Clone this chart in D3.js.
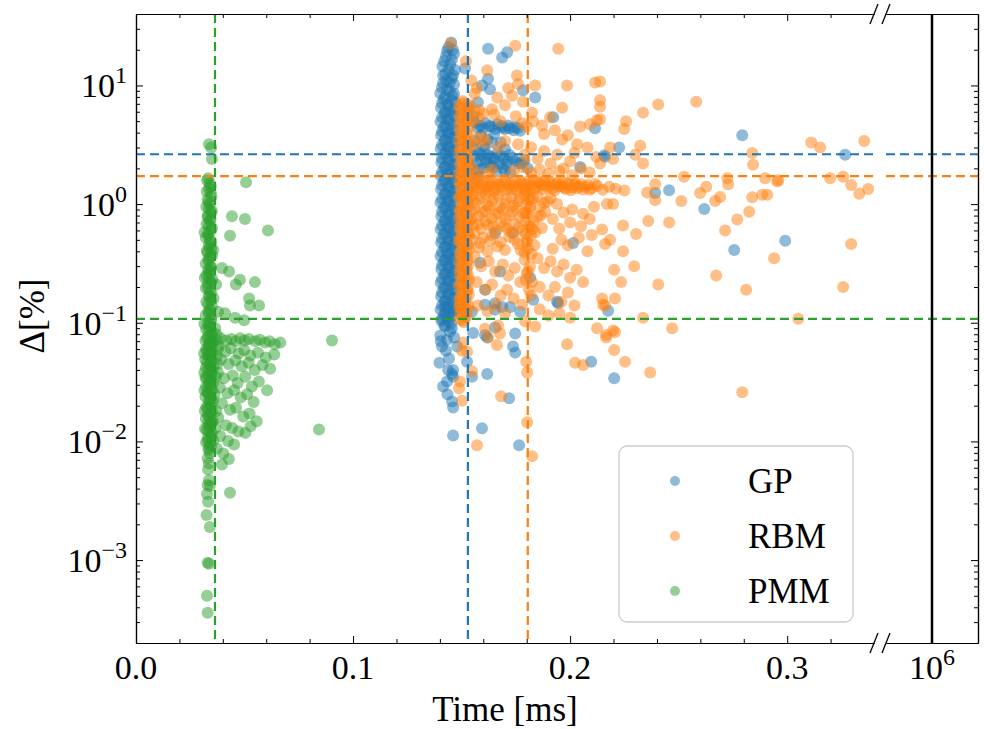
<!DOCTYPE html>
<html><head><meta charset="utf-8">
<script src="https://cdn.jsdelivr.net/npm/d3@7"></script>
<style>body{margin:0;background:#fff}svg{display:block}</style>
</head><body>
<svg id="chart" width="984" height="729"></svg>
<script>
// ---------------- data ----------------
const seriesNames = ["GP", "RBM", "PMM"];
const seriesColors = ["#1f77b4", "#ff7f0e", "#2ca02c"];
// mean time [ms] and mean delta [%] per series (dashed lines)
const meanTime = [0.1529, 0.1805, 0.0364];
const meanDelta = [2.63, 1.72, 0.108];
const exactTime = 1e6;
const xTickValues = [0, 0.1, 0.2, 0.3];
const xTickLabels = ["0.0", "0.1", "0.2", "0.3"];
const yTickValues = [1e-3, 1e-2, 1e-1, 1, 10];
const yTickExponents = ["\u22123", "\u22122", "\u22121", "0", "1"];

// [time ms, delta %]
const gpPoints = [
[0.1452,23],[0.1433,19.5],[0.1465,18.5],[0.1420,16],[0.1447,15],[0.1470,13.5],[0.1425,12.5],[0.1455,11.5],[0.1415,10.5],[0.1465,10.2],
[0.1440,21],[0.1460,20],[0.1428,17.5],[0.1455,16.5],[0.1412,14.5],[0.1440,13.5],[0.1460,12.2],[0.1430,11],[0.1445,10.6],
[0.1622,20.4],[0.1687,17.2],[0.1710,19.0],[0.1516,13.9],[0.1415,12.1],[0.1622,11.4],[0.1594,10.0],[0.1631,9.3],[0.1783,9.1],[0.1839,7.9],[0.2115,4.35],[0.1922,5.4],
[0.1410,9.6],[0.1445,9.0],[0.1465,8.5],[0.1425,8.0],[0.1455,7.5],[0.1410,7.1],[0.1440,6.7],[0.1465,6.3],[0.1425,6.0],[0.1455,5.7],[0.1410,5.4],[0.1440,5.1],[0.1465,4.8],[0.1425,4.55],[0.1455,4.3],[0.1410,4.1],[0.1440,3.9],[0.1465,3.7],[0.1425,3.5],[0.1455,3.3],[0.1410,3.15],[0.1440,3.0],[0.1465,2.85],[0.1425,2.7],[0.1455,2.55],[0.1410,2.42],[0.1440,2.3],[0.1465,2.18],[0.1425,2.07],[0.1455,1.96],[0.1410,1.86],[0.1440,1.77],[0.1465,1.68],[0.1425,1.6],[0.1455,1.52],[0.1410,1.44],[0.1440,1.37],[0.1465,1.3],[0.1425,1.23],[0.1455,1.17],[0.1410,1.11],[0.1440,1.05],[0.1465,1.0],[0.1425,0.95],[0.1455,0.9],[0.1410,0.86],[0.1440,0.81],[0.1465,0.77],[0.1425,0.73],[0.1455,0.7],[0.1410,0.66],[0.1440,0.63],[0.1465,0.6],[0.1425,0.57],[0.1455,0.54],[0.1410,0.51],[0.1440,0.485],[0.1465,0.46],[0.1425,0.44],[0.1455,0.415],[0.1410,0.395],[0.1440,0.375],[0.1465,0.355],[0.1425,0.34],[0.1455,0.32],[0.1410,0.305],[0.1440,0.29],[0.1465,0.275],[0.1425,0.26],[0.1455,0.248],[0.1410,0.235],[0.1440,0.223],[0.1465,0.212],[0.1425,0.2],[0.1455,0.19],[0.1410,0.18],[0.1440,0.172],[0.1465,0.163],[0.1425,0.155],[0.1455,0.147],[0.1410,0.14],[0.1440,0.133],[0.1465,0.126],[0.1425,0.12],[0.1455,0.114],[0.1410,0.108],[0.1440,0.103],
[0.1432,9.3],[0.1402,8.6],[0.1458,8.2],[0.1418,7.7],[0.1470,7.2],[0.1437,6.9],[0.1405,6.5],[0.1450,6.1],[0.1422,5.8],[0.1468,5.5],[0.1432,5.2],[0.1403,4.95],[0.1449,4.7],[0.1418,4.45],[0.1470,4.2],[0.1436,4.0],[0.1406,3.8],[0.1452,3.6],[0.1421,3.4],[0.1469,3.22],[0.1434,3.07],[0.1404,2.93],[0.1450,2.78],[0.1419,2.63],[0.1470,2.5],[0.1436,2.36],[0.1407,2.24],[0.1453,2.12],[0.1421,2.02],[0.1468,1.91],[0.1433,1.82],[0.1404,1.73],[0.1449,1.64],[0.1418,1.56],[0.1470,1.48],[0.1437,1.4],[0.1406,1.33],[0.1452,1.27],[0.1422,1.2],[0.1468,1.14],[0.1432,1.08],[0.1403,1.03],[0.1450,0.975],[0.1419,0.925],[0.1470,0.88],[0.1436,0.835],[0.1407,0.79],[0.1452,0.75],[0.1421,0.715],[0.1469,0.68],[0.1434,0.645],[0.1404,0.615],[0.1450,0.585],[0.1418,0.555],[0.1470,0.525],[0.1437,0.5],[0.1406,0.472],[0.1453,0.45],[0.1422,0.428],[0.1468,0.405],[0.1433,0.385],[0.1403,0.365],[0.1449,0.347],[0.1419,0.33],[0.1470,0.312],[0.1436,0.297],[0.1407,0.282],[0.1452,0.268],[0.1421,0.254],[0.1469,0.241],[0.1434,0.229],[0.1404,0.217],[0.1450,0.206],[0.1418,0.196],[0.1470,0.186],[0.1437,0.176],[0.1406,0.167],[0.1453,0.159],[0.1422,0.151],[0.1468,0.143],[0.1433,0.136],[0.1403,0.129],[0.1449,0.122],[0.1419,0.116],[0.1436,0.11],[0.1407,0.104],[0.1452,0.099],[0.1425,0.094],
[0.1560,4.9],[0.1585,4.6],[0.1610,4.8],[0.1640,4.5],[0.1665,4.7],[0.1690,4.4],[0.1715,4.6],[0.1740,4.2],[0.1590,3.8],[0.1620,3.5],[0.1650,3.9],[0.1680,3.3],[0.1550,3.0],[0.1580,2.7],[0.1605,2.9],[0.1635,2.5],[0.1665,2.7],[0.1695,2.4],[0.1720,2.6],[0.1750,2.3],[0.1570,2.2],[0.1600,2.0],[0.1630,2.1],[0.1660,1.9],[0.1545,1.8],[0.1575,1.7],[0.1690,2.0],[0.1725,1.85],[0.1775,2.2],[0.1805,2.0],[0.1555,5.5],[0.1530,6.5],[0.1575,7.2],
[0.1575,4.4],[0.1600,4.35],[0.1628,4.55],[0.1655,4.3],[0.1685,4.55],[0.1720,4.35],[0.1745,4.45],[0.1770,4.15],[0.1560,3.4],[0.1600,3.1],[0.1640,3.3],[0.1700,2.9],[0.1560,2.55],[0.1590,2.35],[0.1620,2.6],[0.1650,2.45],[0.1680,2.55],[0.1710,2.3],[0.1735,2.45],[0.1760,2.2],[0.1790,2.35],[0.1540,2.1],[0.1580,1.95],[0.1615,2.25],[0.1645,2.05],[0.1675,2.2],[0.1700,1.9],
[0.1700,4.3],[0.1760,4.4],[0.1590,2.6],[0.1650,2.3],[0.1705,2.15],[0.1610,2.4],[0.2046,2.05],[0.2157,2.58],
[0.2226,3.0],[0.2161,2.5],[0.2392,1.24],[0.2456,1.31],[0.2618,0.91],[0.2793,3.8],[0.2756,0.41],[0.2991,0.49],[0.3267,2.6],[0.2175,0.126],
[0.1654,0.57],[0.1737,0.57],[0.1677,0.27],[0.1816,0.24],[0.1585,0.32],[0.1608,0.19],[0.1654,0.146],[0.2014,0.47],[0.1940,0.15],
[0.1447,0.084],[0.1433,0.072],[0.1410,0.063],[0.1480,0.063],[0.1553,0.082],[0.1608,0.079],[0.1618,0.075],[0.1654,0.091],[0.1747,0.081],[0.1737,0.063],[0.1747,0.056],[0.1525,0.047],[0.1438,0.04],[0.1461,0.04],[0.1456,0.037],[0.1433,0.032],[0.1461,0.035],[0.1548,0.035],[0.1618,0.037],[0.1456,0.0217],[0.1461,0.0193],[0.1594,0.0129],[0.1461,0.0112],[0.1765,0.0093],[0.1719,0.0231],[0.1945,0.147],[0.2203,0.034],[0.2097,0.047],[0.1608,0.142],[0.1724,0.136],[0.1770,0.124],[0.1654,0.129],[0.1687,0.136],[0.1548,0.124],[0.1470,0.129],[0.1424,0.136],[0.1830,0.156],[0.1420,0.095],[0.1455,0.09],
[0.1402,0.078],[0.1428,0.058],[0.1398,0.046],[0.1442,0.05],[0.1415,0.029],[0.1435,0.025],[0.1404,0.07],[0.1466,0.075]
];

const rbmPoints = [
[0.1450,22.5],
[0.1505,7.4],[0.1525,6.9],[0.1495,6.4],[0.1515,6.0],[0.1530,5.6],[0.1500,5.3],[0.1520,4.9],[0.1490,4.6],[0.1512,4.3],[0.1528,4.0],[0.1498,3.8],[0.1518,3.55],[0.1505,3.3],[0.1525,3.1],[0.1492,2.9],[0.1515,2.7],[0.1530,2.55],[0.1500,2.4],[0.1520,2.25],[0.1495,2.1],[0.1512,1.98],[0.1528,1.86],[0.1500,1.75],[0.1520,1.65],[0.1490,1.55],[0.1510,1.47],[0.1530,1.39],[0.1500,1.31],[0.1520,1.24],[0.1495,1.17],[0.1515,1.1],[0.1528,1.04],[0.1500,0.98],[0.1520,0.93],[0.1492,0.88],[0.1512,0.83],[0.1530,0.78],[0.1500,0.74],[0.1520,0.7],[0.1495,0.66],[0.1515,0.62],[0.1528,0.59],[0.1500,0.56],[0.1520,0.53],[0.1490,0.5],[0.1510,0.47],[0.1530,0.445],[0.1500,0.42],[0.1520,0.4],[0.1495,0.375],[0.1515,0.355],[0.1528,0.335],[0.1500,0.315],[0.1520,0.3],[0.1492,0.28],[0.1512,0.265],[0.1530,0.25],[0.1500,0.235],[0.1520,0.222],[0.1495,0.21],[0.1515,0.198],[0.1528,0.187],[0.1500,0.176],[0.1520,0.166],[0.1490,0.157],[0.1510,0.148],[0.1530,0.14],[0.1500,0.132],[0.1520,0.125],[0.1495,0.118],[0.1515,0.111],[0.1505,0.104],
[0.1510,7.1],[0.1488,6.7],[0.1532,6.2],[0.1505,5.8],[0.1490,5.45],[0.1527,5.1],[0.1508,4.75],[0.1535,4.45],[0.1493,4.15],[0.1521,3.9],[0.1509,3.65],[0.1488,3.42],[0.1533,3.2],[0.1503,3.0],[0.1524,2.8],[0.1490,2.63],[0.1510,2.47],[0.1534,2.32],[0.1497,2.18],[0.1526,2.04],[0.1506,1.92],[0.1489,1.81],[0.1531,1.7],[0.1508,1.6],[0.1524,1.51],[0.1493,1.43],[0.1512,1.35],[0.1535,1.27],[0.1503,1.2],[0.1488,1.13],[0.1527,1.07],[0.1508,1.01],[0.1533,0.955],[0.1494,0.905],[0.1518,0.855],[0.1505,0.805],[0.1489,0.76],[0.1532,0.72],[0.1509,0.68],[0.1523,0.645],[0.1492,0.61],[0.1511,0.575],[0.1535,0.545],[0.1502,0.515],[0.1488,0.485],[0.1527,0.46],[0.1507,0.435],[0.1533,0.41],[0.1494,0.39],[0.1518,0.365],[0.1505,0.345],[0.1489,0.325],[0.1532,0.307],[0.1509,0.29],[0.1523,0.273],[0.1492,0.258],[0.1511,0.243],[0.1535,0.229],[0.1502,0.216],[0.1488,0.204],[0.1527,0.192],[0.1507,0.181],[0.1533,0.171],[0.1494,0.161],[0.1518,0.152],[0.1505,0.143],[0.1489,0.135],[0.1532,0.128],[0.1509,0.12],[0.1523,0.113],[0.1492,0.107],[0.1511,0.101],
[0.1545,1.55],[0.1560,1.38],[0.1575,1.62],[0.1590,1.45],[0.1605,1.33],[0.1620,1.58],[0.1635,1.42],[0.1650,1.3],[0.1665,1.55],[0.1680,1.4],[0.1695,1.6],[0.1710,1.35],[0.1725,1.5],[0.1740,1.42],[0.1755,1.3],[0.1770,1.56],[0.1785,1.38],[0.1800,1.48],[0.1815,1.32],[0.1830,1.6],[0.1845,1.4],[0.1860,1.5],[0.1875,1.33],[0.1890,1.45],[0.1905,1.55],[0.1920,1.36],[0.1935,1.48],[0.1950,1.4],[0.1965,1.52],[0.1980,1.34],[0.1995,1.45],[0.2010,1.38],[0.2025,1.5],[0.2040,1.4],[0.2060,1.33],[0.2080,1.45],[0.2100,1.36],[0.2125,1.42],[0.2150,1.32],[0.2180,1.4],[0.2210,1.35],[0.2250,1.3],
[0.1538,1.44],[0.1552,1.3],[0.1567,1.5],[0.1583,1.36],[0.1598,1.57],[0.1612,1.4],[0.1627,1.29],[0.1643,1.52],[0.1657,1.37],[0.1672,1.46],[0.1688,1.31],[0.1703,1.52],[0.1718,1.43],[0.1733,1.33],[0.1748,1.58],[0.1762,1.41],[0.1778,1.49],[0.1792,1.3],[0.1808,1.55],[0.1822,1.42],[0.1838,1.34],[0.1853,1.56],[0.1868,1.44],[0.1882,1.55],[0.1898,1.37],[0.1913,1.46],[0.1928,1.3],[0.1943,1.52],[0.1958,1.43],[0.1972,1.38],[0.1988,1.5],[0.2003,1.31],[0.2018,1.44],[0.2033,1.36],[0.2050,1.47],[0.2070,1.4],[0.2090,1.32],[0.2115,1.48],
[0.1550,1.2],[0.1580,1.1],[0.1610,1.22],[0.1640,1.05],[0.1670,1.18],[0.1700,1.0],[0.1730,1.15],[0.1760,1.05],[0.1790,1.2],[0.1820,1.08],[0.1850,1.17],[0.1880,1.02],[0.1910,1.12],[0.1940,1.0],[0.1560,0.92],[0.1595,0.85],[0.1625,0.95],[0.1655,0.82],[0.1690,0.9],[0.1720,0.8],[0.1750,0.93],[0.1785,0.84],[0.1815,0.9],[0.1850,0.78],[0.1885,0.86],[0.1920,0.75],[0.1545,0.75],[0.1575,0.68],[0.1610,0.72],[0.1645,0.65],[0.1680,0.7],[0.1710,0.62],[0.1745,0.68],[0.1780,0.6],[0.1810,0.66],[0.1840,0.58],[0.1870,0.63],[0.1560,0.57],[0.1600,0.52],[0.1640,0.55],[0.1680,0.48],[0.1720,0.53],[0.1760,0.46],[0.1800,0.5],[0.1835,0.45],[0.1580,0.43],[0.1620,0.4],[0.1700,0.41],[0.1790,0.39],
[0.1535,1.12],[0.1565,1.02],[0.1590,1.15],[0.1618,0.98],[0.1648,1.12],[0.1676,0.94],[0.1705,1.1],[0.1738,0.97],[0.1768,1.13],[0.1798,0.99],[0.1830,1.12],[0.1862,0.95],[0.1895,1.05],[0.1545,0.86],[0.1578,0.79],[0.1608,0.88],[0.1638,0.76],[0.1668,0.85],[0.1702,0.74],[0.1735,0.86],[0.1768,0.77],[0.1800,0.83],[0.1832,0.72],[0.1865,0.8],[0.1553,0.66],[0.1590,0.62],[0.1622,0.67],[0.1660,0.6],[0.1695,0.65],[0.1728,0.58],[0.1762,0.63],[0.1795,0.56],[0.1825,0.61],[0.1548,0.5],[0.1585,0.47],[0.1630,0.49],[0.1665,0.44],[0.1745,0.5],[0.1772,0.41],
[0.1800,1.25],[0.1815,0.95],[0.1795,0.72],[0.1820,0.55],[0.1805,0.42],[0.1790,0.34],[0.1815,0.3],[0.1800,0.26],[0.1825,0.22],[0.1810,0.19],
[0.1808,1.1],[0.1795,0.85],[0.1818,0.64],[0.1800,0.48],[0.1822,0.38],[0.1806,0.27],[0.1795,0.23],[0.1820,0.17],
[0.1747,21.6],[0.1945,20.4],[0.1618,13.4],[0.1755,12.1],[0.1760,10.3],[0.1715,9.5],[0.1839,10.0],[0.1986,10.0],[0.2115,10.6],[0.2138,7.5],[0.1664,7.9],[0.1733,8.2],[0.1783,7.3],[0.1825,5.9],[0.1963,6.5],[0.1908,5.4],[0.2046,4.5],[0.2092,4.7],[0.2124,5.1],[0.2032,3.2],[0.1963,3.5],[0.1880,3.9],[0.1800,4.5],[0.1750,5.5],[0.1700,6.8],[0.1650,5.7],[0.1580,6.2],[0.1560,8.5],[0.1570,9.5],[0.1545,11],[0.1520,16],
[0.1540,6.8],[0.1560,6.0],[0.1548,5.0],[0.1600,5.8],[0.1640,6.3],[0.1600,3.6],[0.1560,3.2],[0.1545,2.0],[0.1570,1.85],[0.1620,1.8],
[0.2406,6.9],[0.2581,7.3],[0.2336,5.9],[0.2258,5.0],[0.2249,4.3],[0.2323,3.1],[0.2300,2.6],[0.2336,2.2],[0.2198,2.4],[0.2138,2.2],[0.2184,3.0],[0.2138,10.8],[0.2138,6.6],[0.2138,5.2],[0.2839,2.7],[0.2843,2.15],[0.3111,3.3],[0.3152,3.0],[0.3355,3.4],[0.3258,1.7],[0.3295,1.45],[0.3373,1.34],[0.3332,1.22],[0.3198,1.65],[0.2959,1.59],[0.2899,1.65],[0.2728,1.47],[0.2724,1.65],[0.2627,1.4],[0.2599,1.24],[0.2525,1.7],[0.2392,1.47],[0.2355,1.25],[0.2392,1.08],[0.2512,1.06],[0.2668,1.06],[0.2691,1.15],[0.2839,1.14],[0.2885,1.2],[0.2908,1.2],[0.2825,0.86],[0.2954,1.55],[0.2456,0.7],[0.2360,0.72],[0.2244,0.66],[0.2304,0.56],[0.2714,0.6],[0.2770,0.74],[0.2198,1.0],[0.2170,1.0],[0.2147,0.61],[0.2184,0.5],[0.2161,0.46],[0.2244,0.4],[0.2940,0.35],[0.3295,0.46],[0.2811,0.19],[0.2673,0.25],[0.2295,0.3],[0.2203,0.28],[0.2406,0.21],[0.2147,0.16],[0.2235,0.22],[0.2207,0.16],[0.2161,0.14],[0.2336,0.11],[0.2470,0.09],[0.3051,0.108],[0.3258,0.2],[0.2166,0.075],[0.2207,0.083],[0.2793,0.026],[0.2369,0.038],[0.2253,0.047],
[0.1493,0.142],[0.1608,0.089],[0.1668,0.095],[0.1677,0.081],[0.1622,0.075],[0.1663,0.065],[0.1507,0.068],[0.1502,0.058],[0.1525,0.057],[0.1779,0.142],[0.1793,0.103],[0.1839,0.093],[0.1798,0.047],[0.1802,0.038],[0.1548,0.039],[0.1493,0.032],[0.1488,0.028],[0.1502,0.022],[0.1682,0.024],[0.1802,0.0145],[0.1571,0.0093],[0.1825,0.0075],[0.1986,0.066],[0.2023,0.046],[0.2060,0.044],[0.2124,0.09],[0.2198,0.086],[0.2166,0.079],[0.2203,0.059],[0.2152,0.142],
[0.1560,0.36],[0.1590,0.3],[0.1625,0.33],[0.1655,0.27],[0.1690,0.31],[0.1715,0.25],[0.1745,0.29],[0.1770,0.22],[0.1850,0.35],[0.1880,0.29],[0.1910,0.33],[0.1940,0.27],[0.1970,0.31],[0.2000,0.24],[0.2030,0.28],[0.2060,0.22],[0.1570,0.22],[0.1610,0.19],[0.1640,0.21],[0.1680,0.17],[0.1710,0.19],[0.1740,0.16],[0.1860,0.2],[0.1900,0.17],[0.1930,0.2],[0.1960,0.15],[0.1990,0.18],[0.2020,0.14],[0.1575,0.14],[0.1620,0.125],[0.1660,0.14],[0.1700,0.12],[0.1860,0.13],[0.1900,0.115],[0.1950,0.12],[0.2000,0.11],[0.1920,0.42],[0.1960,0.5],[0.1990,0.45],[0.2040,0.52],[0.2080,0.4],[0.2100,0.55],[0.1950,0.62],[0.2000,0.7],[0.2050,0.65],[0.2090,0.75],[0.1970,0.85],[0.2010,0.9],[0.2060,0.83],[0.2110,0.95],
[0.1570,3.6],[0.1610,3.3],[0.1670,3.0],[0.1700,3.4],[0.1760,3.2],[0.1790,2.6],[0.1820,3.0],[0.1850,2.4],[0.1880,2.8],[0.1910,2.2],[0.1940,2.6],[0.1970,2.0],[0.2000,2.3],[0.1640,1.95],[0.1740,1.9],[0.1780,2.05],[0.1820,1.85],[0.1860,1.95],[0.1900,1.8],[0.1950,1.9],[0.2010,1.75],[0.2050,2.0],[0.2090,1.85],[0.2120,2.5],[0.2080,3.0],[0.2020,2.7],[0.1990,3.8],[0.1930,4.2],[0.1870,4.6],[0.1830,5.0],[0.1780,4.8],[0.1680,5.0],[0.1580,5.3]
];

const pmmPoints = [
[0.0336,3.2],[0.0346,3.0],[0.0350,2.4],
[0.0332,1.65],[0.0340,1.5],[0.0336,1.35],[0.0344,1.25],[0.0330,1.1],[0.0340,1.0],[0.0336,0.92],[0.0346,0.85],[0.0330,0.78],[0.0340,0.72],[0.0336,0.66],[0.0345,0.6],[0.0332,0.55],[0.0341,0.5],[0.0336,0.46],[0.0346,0.42],[0.0330,0.39],[0.0340,0.36],[0.0336,0.33],[0.0345,0.3],[0.0332,0.28],[0.0341,0.26],[0.0336,0.24],[0.0346,0.22],[0.0330,0.2],[0.0340,0.185],[0.0336,0.17],[0.0345,0.155],[0.0332,0.143],[0.0341,0.13],[0.0336,0.12],[0.0346,0.11],[0.0330,0.1],[0.0340,0.093],[0.0336,0.086],[0.0345,0.08],[0.0328,0.074],[0.0341,0.07],[0.0336,0.066],[0.0346,0.062],[0.0325,0.058],[0.0340,0.055],[0.0336,0.052],[0.0345,0.049],[0.0327,0.046],[0.0341,0.043],[0.0336,0.04],[0.0346,0.037],[0.0325,0.034],[0.0340,0.032],[0.0336,0.03],[0.0345,0.028],[0.0328,0.026],[0.0341,0.024],[0.0336,0.022],[0.0346,0.02],[0.0330,0.019],[0.0340,0.0175],[0.0336,0.016],[0.0345,0.015],[0.0332,0.014],[0.0341,0.013],[0.0336,0.012],[0.0346,0.011],[0.0330,0.0102],[0.0340,0.0095],
[0.0328,1.58],[0.0344,1.42],[0.0326,1.28],[0.0348,1.16],[0.0334,1.04],[0.0324,0.95],[0.0349,0.88],[0.0331,0.8],[0.0343,0.74],[0.0325,0.68],[0.0350,0.63],[0.0333,0.57],[0.0322,0.52],[0.0347,0.48],[0.0338,0.43],[0.0326,0.405],[0.0351,0.37],[0.0333,0.345],[0.0321,0.315],[0.0346,0.29],[0.0337,0.27],[0.0325,0.25],[0.0352,0.232],[0.0331,0.215],[0.0322,0.195],[0.0347,0.178],[0.0338,0.165],[0.0324,0.15],[0.0350,0.138],[0.0333,0.125],[0.0321,0.115],[0.0346,0.105],[0.0338,0.097],[0.0323,0.088],[0.0351,0.082],[0.0333,0.077],[0.0320,0.071],[0.0348,0.067],[0.0337,0.063],[0.0324,0.06],[0.0352,0.056],[0.0332,0.053],[0.0319,0.049],[0.0347,0.047],[0.0338,0.044],[0.0322,0.042],[0.0351,0.039],[0.0333,0.0365],[0.0320,0.0345],[0.0347,0.033],[0.0337,0.031],[0.0323,0.029],[0.0351,0.027],[0.0332,0.0255],[0.0320,0.0238],[0.0346,0.0222],[0.0338,0.0208],[0.0324,0.0195],[0.0350,0.018],[0.0331,0.0168],[0.0322,0.0155],[0.0347,0.0145],[0.0337,0.0135],[0.0325,0.0125],[0.0349,0.0117],[0.0332,0.0108],[0.0323,0.0098],[0.0346,0.0092],[0.0334,0.0085],
[0.0316,0.58],[0.0356,0.41],[0.0317,0.24],[0.0357,0.16],[0.0315,0.098],[0.0356,0.07],[0.0314,0.055],[0.0357,0.043],[0.0315,0.038],[0.0355,0.031],[0.0316,0.027],[0.0356,0.022],[0.0317,0.018],[0.0355,0.0148],[0.0318,0.0128],[0.0356,0.0102],
[0.0336,0.0088],[0.0340,0.008],[0.0330,0.0072],[0.0336,0.0065],[0.0332,0.0058],[0.0336,0.0047],[0.0330,0.0043],[0.0340,0.0042],[0.0327,0.0036],[0.0332,0.0031],[0.0325,0.0024],[0.0340,0.0019],[0.0330,0.00095],[0.0336,0.00093],[0.0327,0.0005],[0.0330,0.00036],
[0.0507,1.53],[0.0442,0.79],[0.0502,0.75],[0.0608,0.6],[0.0433,0.54],
[0.0396,0.29],[0.0429,0.27],[0.0479,0.23],[0.0460,0.21],[0.0548,0.22],[0.0369,0.21],[0.0521,0.16],[0.0525,0.14],[0.0567,0.14],[0.0378,0.124],[0.0410,0.12],[0.0456,0.11],[0.0498,0.105],
[0.0369,0.072],[0.0390,0.074],[0.0415,0.071],[0.0440,0.073],[0.0460,0.07],[0.0480,0.074],[0.0500,0.071],[0.0520,0.073],[0.0550,0.07],[0.0570,0.072],[0.0595,0.068],[0.0615,0.07],[0.0640,0.066],[0.0665,0.068],[0.0903,0.071],
[0.0365,0.09],[0.0372,0.052],[0.0368,0.035],[0.0362,0.025],[0.0370,0.018],[0.0366,0.013],[0.0375,0.045],[0.0378,0.06],[0.0371,0.08],
[0.0381,0.064],[0.0412,0.057],[0.0436,0.061],[0.0473,0.055],[0.0498,0.059],[0.0527,0.053],[0.0562,0.056],[0.0598,0.051],[0.0637,0.054],[0.0392,0.049],[0.0427,0.045],[0.0458,0.048],[0.0487,0.043],[0.0519,0.046],[0.0547,0.04],[0.0583,0.044],[0.0618,0.041],[0.0377,0.038],[0.0405,0.034],[0.0446,0.036],[0.0468,0.031],[0.0503,0.035],[0.0534,0.029],[0.0566,0.032],[0.0604,0.027],[0.0386,0.0285],[0.0421,0.0255],[0.0452,0.027],[0.0483,0.0235],[0.0512,0.025],[0.0542,0.0215],[0.0396,0.021],[0.0433,0.0185],[0.0461,0.0192],[0.0494,0.0162],[0.0523,0.0172],[0.0556,0.0148],[0.0379,0.0158],[0.0414,0.0137],[0.0443,0.013],[0.0472,0.0121],[0.0504,0.0118],[0.0528,0.0134],[0.0388,0.0111],[0.0424,0.0101],[0.0452,0.0094],[0.0372,0.0087],[0.0402,0.0079],[0.0428,0.0071],
[0.0843,0.0126],[0.0433,0.0037],[0.0396,0.0064]
];

// ---------------- layout ----------------
const L = 136, R = 978, T = 14, B = 643, brkL = 874, brkR = 886;
const FONT = "'Liberation Serif', 'DejaVu Serif', serif";
const svg = d3.select("#chart");

const x = d3.scaleLinear().domain([0, 0.34]).range([L, brkL]);
const x2 = d3.scaleLinear().domain([exactTime - 1, exactTime + 1]).range([brkR, R]);
const y = d3.scaleLog().domain([2e-4, 40]).range([B, T]);

svg.append("defs").append("clipPath").attr("id", "clipL")
  .append("rect").attr("x", L).attr("y", T).attr("width", brkL - L).attr("height", B - T);

// points
const allSeries = [gpPoints, rbmPoints, pmmPoints];
const pg = svg.append("g").attr("clip-path", "url(#clipL)");
allSeries.forEach((pts, i) => {
  pg.append("g").selectAll("circle").data(pts).join("circle")
    .attr("cx", d => x(d[0])).attr("cy", d => y(d[1])).attr("r", 6)
    .attr("fill", seriesColors[i]).attr("fill-opacity", 0.5);
});

// dashed mean lines
const lg = svg.append("g");
seriesNames.forEach((n, i) => {
  const yy = y(meanDelta[i]);
  [[L, brkL], [brkR, R]].forEach(([a, b]) => {
    lg.append("line").attr("x1", a).attr("x2", b).attr("y1", yy).attr("y2", yy)
      .attr("stroke", seriesColors[i]).attr("stroke-width", 2.2).attr("stroke-dasharray", "9,5");
  });
  const xx = x(meanTime[i]);
  lg.append("line").attr("x1", xx).attr("x2", xx).attr("y1", T).attr("y2", B)
    .attr("stroke", seriesColors[i]).attr("stroke-width", 2.2).attr("stroke-dasharray", "9,5");
});

// exact solver line
lg.append("line").attr("x1", x2(exactTime)).attr("x2", x2(exactTime)).attr("y1", T).attr("y2", B)
  .attr("stroke", "#000").attr("stroke-width", 2.5);

// axes
const xMinor = d3.range(0.02, 0.34, 0.02).filter(v => Math.abs(v * 10 - Math.round(v * 10)) > 1e-6);
const yMinor = [];
for (let k = -4; k <= 1; k++) for (let m = 2; m <= 9; m++) { const v = m * Math.pow(10, k); if (v >= 2e-4 && v <= 40) yMinor.push(v); }

function styleAxis(g) {
  g.selectAll("path.domain").attr("stroke", "#000").attr("stroke-width", 1.2);
  g.selectAll(".tick line").attr("stroke", "#000").attr("stroke-width", 1);
  g.selectAll(".tick text").remove();
}
const ax = svg.append("g");
ax.append("g").attr("transform", `translate(0,${B})`).call(d3.axisBottom(x).tickValues(xTickValues).tickSize(-7).tickSizeOuter(0).tickFormat("")).call(styleAxis);
ax.append("g").attr("transform", `translate(0,${B})`).call(d3.axisBottom(x).tickValues(xMinor).tickSize(-4).tickSizeOuter(0).tickFormat("")).call(styleAxis);
ax.append("g").attr("transform", `translate(0,${T})`).call(d3.axisTop(x).tickValues(xTickValues).tickSize(-7).tickSizeOuter(0).tickFormat("")).call(styleAxis);
ax.append("g").attr("transform", `translate(0,${T})`).call(d3.axisTop(x).tickValues(xMinor).tickSize(-4).tickSizeOuter(0).tickFormat("")).call(styleAxis);
ax.append("g").attr("transform", `translate(0,${B})`).call(d3.axisBottom(x2).tickValues([exactTime]).tickSize(-7).tickSizeOuter(0).tickFormat("")).call(styleAxis);
ax.append("g").attr("transform", `translate(0,${T})`).call(d3.axisTop(x2).tickValues([exactTime]).tickSize(-7).tickSizeOuter(0).tickFormat("")).call(styleAxis);
ax.append("g").attr("transform", `translate(${L},0)`).call(d3.axisLeft(y).tickValues(yTickValues).tickSize(-7).tickSizeOuter(0).tickFormat("")).call(styleAxis);
ax.append("g").attr("transform", `translate(${L},0)`).call(d3.axisLeft(y).tickValues(yMinor).tickSize(-4).tickSizeOuter(0).tickFormat("")).call(styleAxis);
ax.append("g").attr("transform", `translate(${R},0)`).call(d3.axisRight(y).tickValues(yTickValues).tickSize(-7).tickSizeOuter(0).tickFormat("")).call(styleAxis);
ax.append("g").attr("transform", `translate(${R},0)`).call(d3.axisRight(y).tickValues(yMinor).tickSize(-4).tickSizeOuter(0).tickFormat("")).call(styleAxis);

// break marks
[[brkL, B], [brkR, B], [brkL, T], [brkR, T]].forEach(([cx, cy]) => {
  ax.append("line").attr("x1", cx - 4).attr("y1", cy + 10).attr("x2", cx + 4).attr("y2", cy - 10)
    .attr("stroke", "#000").attr("stroke-width", 1.3);
});

// tick labels
const tl = svg.append("g").attr("font-family", FONT).attr("fill", "#000");
xTickValues.forEach((v, i) => {
  tl.append("text").attr("x", x(v)).attr("y", 679).attr("text-anchor", "middle")
    .attr("font-size", 34).text(xTickLabels[i]);
});
{
  const t = tl.append("text").attr("x", x2(exactTime)).attr("y", 679).attr("text-anchor", "middle").attr("font-size", 34);
  t.append("tspan").text("10");
  t.append("tspan").attr("font-size", 24).attr("dy", -14).text("6");
}
yTickValues.forEach((v, i) => {
  const t = tl.append("text").attr("x", 127).attr("y", y(v) + 12).attr("text-anchor", "end").attr("font-size", 34);
  t.append("tspan").text("10");
  t.append("tspan").attr("font-size", 24).attr("dy", -14).text(yTickExponents[i]);
});

// axis titles
tl.append("text").attr("x", (L + brkL) / 2).attr("y", 721).attr("text-anchor", "middle")
  .attr("font-size", 35).text("Time [ms]");
tl.append("text").attr("transform", "translate(44,316) rotate(-90)").attr("text-anchor", "middle")
  .attr("font-size", 35).text("\u0394[%]");

// legend
const leg = svg.append("g");
leg.append("rect").attr("x", 619).attr("y", 446).attr("width", 234).attr("height", 176).attr("rx", 8)
  .attr("fill", "#fff").attr("fill-opacity", 0.8).attr("stroke", "#cccccc").attr("stroke-width", 1.3);
seriesNames.forEach((n, i) => {
  const cy = 481 + i * 55;
  leg.append("circle").attr("cx", 675).attr("cy", cy).attr("r", 5).attr("fill", seriesColors[i]).attr("fill-opacity", 0.5);
  leg.append("text").attr("x", 748).attr("y", cy + 12).attr("font-family", FONT).attr("font-size", 35).text(n);
});
</script>
</body></html>
